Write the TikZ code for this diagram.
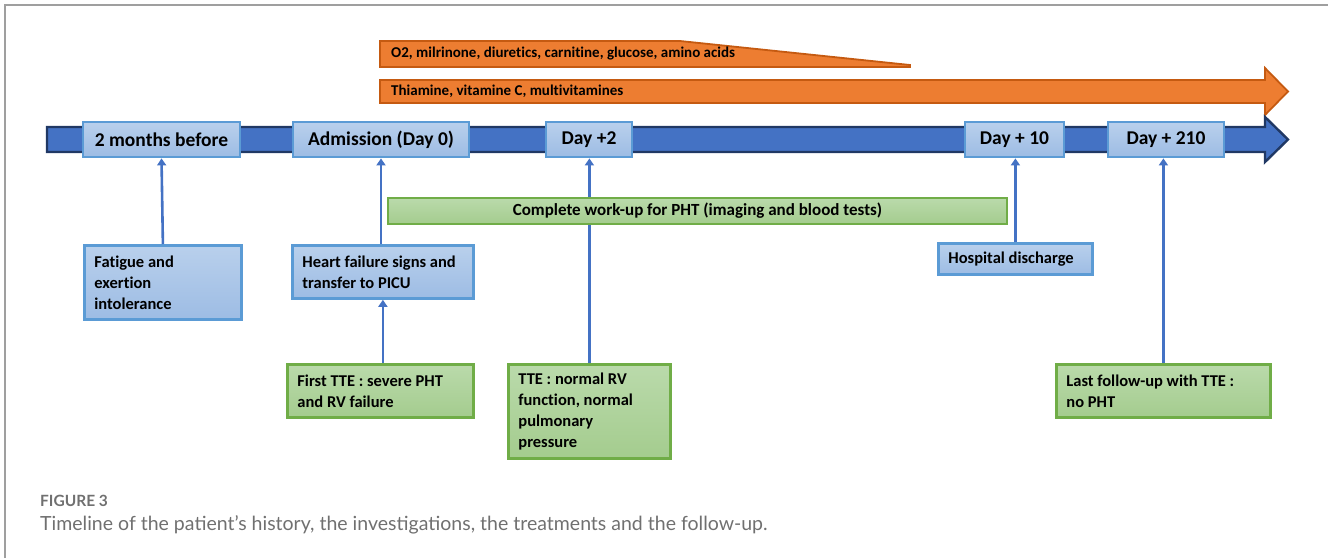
\documentclass[tikz,border=0pt]{standalone}
\usepackage{fontspec}
\setmainfont{Carlito}[Ligatures=CommonOff]
\newfontfamily\capfont{Lato}
\usetikzlibrary{arrows.meta}

\definecolor{tlblue}{HTML}{4472C4}
\definecolor{tlnavy}{HTML}{203864}
\definecolor{boxedge}{HTML}{5B9BD5}
\definecolor{boxtop}{HTML}{B9D0EC}
\definecolor{boxbot}{HTML}{9DBCE4}
\definecolor{drugfill}{HTML}{ED7D31}
\definecolor{drugedge}{HTML}{C55A11}
\definecolor{grnedge}{HTML}{70AD47}
\definecolor{grntop}{HTML}{BADAAB}
\definecolor{grnbot}{HTML}{A4CC8E}
\definecolor{capgray}{HTML}{707070}

\tikzset{
  tlbox/.style={draw=boxedge, line width=2.8pt, top color=boxtop, bottom color=boxbot,
    minimum height=35, inner xsep=8pt, font=\bfseries\fontsize{19.5}{22}\selectfont},
  evtblue/.style={draw=boxedge, line width=2.8pt, top color=boxtop, bottom color=boxbot,
    anchor=north west, align=flush left, inner xsep=10pt, inner ysep=5pt,
    font=\bfseries\fontsize{16.5}{21}\selectfont},
  evtgreen/.style={evtblue, draw=grnedge, top color=grntop, bottom color=grnbot},
  conn/.style={draw=tlblue, line width=2.6pt, -{Triangle[width=9pt,length=7pt]}},
  drug/.style={anchor=west, inner sep=0pt, font=\bfseries\fontsize{15}{17}\selectfont}
}

\begin{document}
\begin{tikzpicture}[x=1pt,y=-1pt]
\useasboundingbox (0,0) rectangle (1328,558);

% frame
\draw[gray!75, line width=1.5pt] (5,558) -- (5,5) -- (1328,5);

% treatments
\draw[fill=drugfill, draw=drugedge, line width=1.8pt]
    (380,41) -- (680,41) -- (910,65) -- (910,67) -- (380,67) -- cycle;
\node[drug] (otwo) at (391,54) {O2, milrinone, diuretics, carnitine, glucose, amino acids};
\draw[fill=drugfill, draw=drugedge, line width=1.8pt]
    (380,80) -- (1265,80) -- (1265,68) -- (1288,91.5)
    -- (1265,115) -- (1265,103) -- (380,103) -- cycle;
\node[drug] (vita) at (391,91.5) {Thiamine, vitamine C, multivitamines};

% timeline
\draw[fill=tlblue, draw=tlnavy, line width=2.4pt]
    (47,127) -- (1265,127) -- (1265,117) -- (1288,139.5)
    -- (1265,162) -- (1265,152) -- (47,152) -- cycle;
\node[tlbox, minimum width=157] (mbef) at (161.5,139.5) {2 months before};
\node[tlbox, minimum width=176] (adm) at (381,139.5) {Admission (Day 0)};
\node[tlbox, minimum width=86] (d2) at (589,139.5) {Day +2};
\node[tlbox, minimum width=99] (d10) at (1014.5,139.5) {Day + 10};
\node[tlbox, minimum width=116] (d210) at (1166,139.5) {Day + 210};

% events
\node[evtblue, text width=137, minimum height=74] (fat) at (83,244) {Fatigue and\\exertion\\intolerance};
\node[evtblue, text width=161, minimum height=53] (hf) at (291,244) {Heart failure signs and\\transfer to PICU};
\node[evtblue, text width=134, minimum height=31] (disc) at (937,242) {Hospital discharge};
\node[evtgreen, text width=166, minimum height=53] (ftte) at (286,363) {First TTE : severe PHT\\and RV failure};
\node[evtgreen, text width=142, minimum height=94] (tte) at (507,363) {TTE : normal RV\\function, normal\\pulmonary\\pressure};
\node[evtgreen, text width=194, minimum height=53] (lfu) at (1055,363) {Last follow-up with TTE :\\no PHT};

% connectors
\draw[conn] (fat.north) -- (mbef.south);
\draw[conn] (hf.north -| adm.south) -- (adm.south);
\draw[conn] (ftte.north -| hf.south) -- (hf.south);
\draw[conn] (tte.north) -- (tte.north |- d2.south);
\draw[conn] (disc.north) -- (disc.north |- d10.south);
\draw[conn] (lfu.north) -- (lfu.north |- d210.south);

% work-up, over the Day +2 line
\node[draw=grnedge, line width=2.8pt, top color=grntop, bottom color=grnbot,
    minimum width=619, minimum height=26, inner sep=0pt,
    font=\bfseries\fontsize{17}{19}\selectfont] (work) at (697.5,211)
    {Complete work-up for PHT (imaging and blood tests)};

% caption
\node[anchor=west, inner sep=0pt, text=capgray, font=\capfont\bfseries\fontsize{15.5}{17}\selectfont] (fig) at (40,501) {FIGURE 3};
\node[anchor=west, inner sep=0pt, text=capgray, font=\capfont\fontsize{19.5}{22}\selectfont] (cap) at (40,525)
    {Timeline of the patient’s history, the investigations, the treatments and the follow-up.};
\end{tikzpicture}
\end{document}
